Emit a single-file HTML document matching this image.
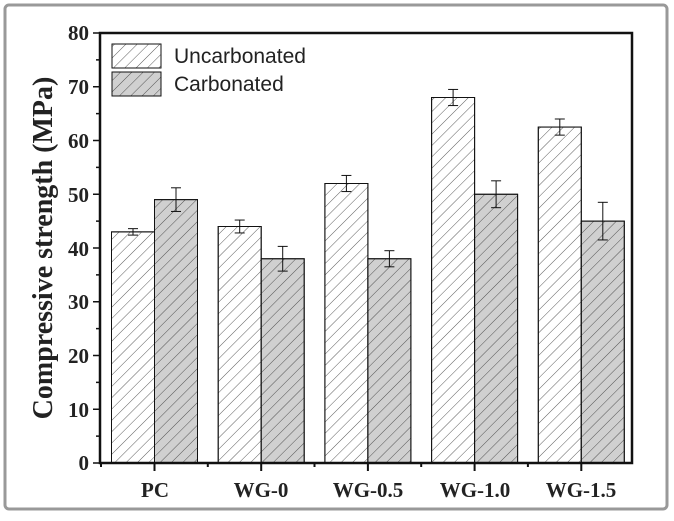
<!DOCTYPE html><html><head><style>body{margin:0;background:#fff}</style></head><body>
<svg width="674" height="516" xmlns="http://www.w3.org/2000/svg">
<defs>
<pattern id="h" width="8" height="8" patternUnits="userSpaceOnUse" patternTransform="rotate(45)"><line x1="0" y1="0" x2="0" y2="8" stroke="#333" stroke-width="0.8"/></pattern>
</defs>
<rect x="5" y="5" width="662" height="504" rx="4" fill="#fff" stroke="#999" stroke-width="3"/>
<g stroke="#111" stroke-width="1">
<g id="bars"></g>
</g>
<script>
var g=document.getElementById('bars'),ns='http://www.w3.org/2000/svg';
var d=[[43,.6,49,2.2],[44,1.2,38,2.3],[52,1.5,38,1.5],[68,1.5,50,2.5],[62.5,1.5,45,3.5]];
function Y(v){return 463-v*5.375}
function r(x,y,w,h,f){var e=document.createElementNS(ns,'rect');e.setAttribute('x',x);e.setAttribute('y',y);e.setAttribute('width',w);e.setAttribute('height',h);e.setAttribute('fill',f);g.appendChild(e);var e2=e.cloneNode();e2.setAttribute('fill','url(#h)');g.appendChild(e2);}
function l(a,b,c,dd){var e=document.createElementNS(ns,'line');e.setAttribute('x1',a);e.setAttribute('y1',b);e.setAttribute('x2',c);e.setAttribute('y2',dd);g.appendChild(e);}
d.forEach(function(v,i){var c=154.5+i*106.7;
[[c-43,v[0],v[1],'#fff'],[c,v[2],v[3],'#d0d0d0']].forEach(function(b){r(b[0],Y(b[1]),43,463-Y(b[1]),b[3]);var m=b[0]+21.5;l(m,Y(b[1]+b[2]),m,Y(b[1]-b[2]));l(m-5,Y(b[1]+b[2]),m+5,Y(b[1]+b[2]));l(m-5,Y(b[1]-b[2]),m+5,Y(b[1]-b[2]));});});
</script>
<g fill="none" stroke="#111">
<rect x="100" y="33" width="532" height="430" stroke-width="2.5"/>
<path d="M100 33h-7M100 59.9h-4M100 86.8h-7M100 113.6h-4M100 140.5h-7M100 167.4h-4M100 194.3h-7M100 221.1h-4M100 248h-7M100 274.9h-4M100 301.8h-7M100 328.6h-4M100 355.5h-7M100 382.4h-4M100 409.3h-7M100 436.1h-4M100 463h-7" stroke-width="1.5"/>
<path d="M154.5 463v8M261.2 463v8M367.9 463v8M474.6 463v8M581.3 463v8M101 463v4M207.8 463v4M314.5 463v4M421.2 463v4M527.9 463v4" stroke-width="2"/>
<rect x="112" y="44" width="49" height="24" fill="#fff"/><rect x="112" y="44" width="49" height="24" fill="url(#h)"/>
<rect x="112" y="72" width="49" height="24" fill="#d0d0d0"/><rect x="112" y="72" width="49" height="24" fill="url(#h)"/>
</g>
<g font-family="Liberation Sans, sans-serif" font-size="21" fill="#222"><text x="174" y="63">Uncarbonated</text><text x="174" y="91">Carbonated</text></g>
<g font-family="Liberation Serif, serif" font-weight="bold" font-size="21" fill="#222" text-anchor="end">
<text x="89" y="40">80</text><text x="89" y="94">70</text><text x="89" y="148">60</text><text x="89" y="202">50</text><text x="89" y="256">40</text><text x="89" y="309">30</text><text x="89" y="363">20</text><text x="89" y="417">10</text><text x="89" y="470">0</text></g>
<g font-family="Liberation Serif, serif" font-weight="bold" font-size="21" fill="#222" text-anchor="middle">
<text x="155" y="497">PC</text><text x="261" y="497">WG-0</text><text x="368" y="497">WG-0.5</text><text x="475" y="497">WG-1.0</text><text x="581" y="497">WG-1.5</text></g>
<text transform="translate(52,248) rotate(-90)" font-family="Liberation Serif, serif" font-weight="bold" font-size="28" fill="#222" text-anchor="middle">Compressive strength (MPa)</text>
</svg></body></html>
